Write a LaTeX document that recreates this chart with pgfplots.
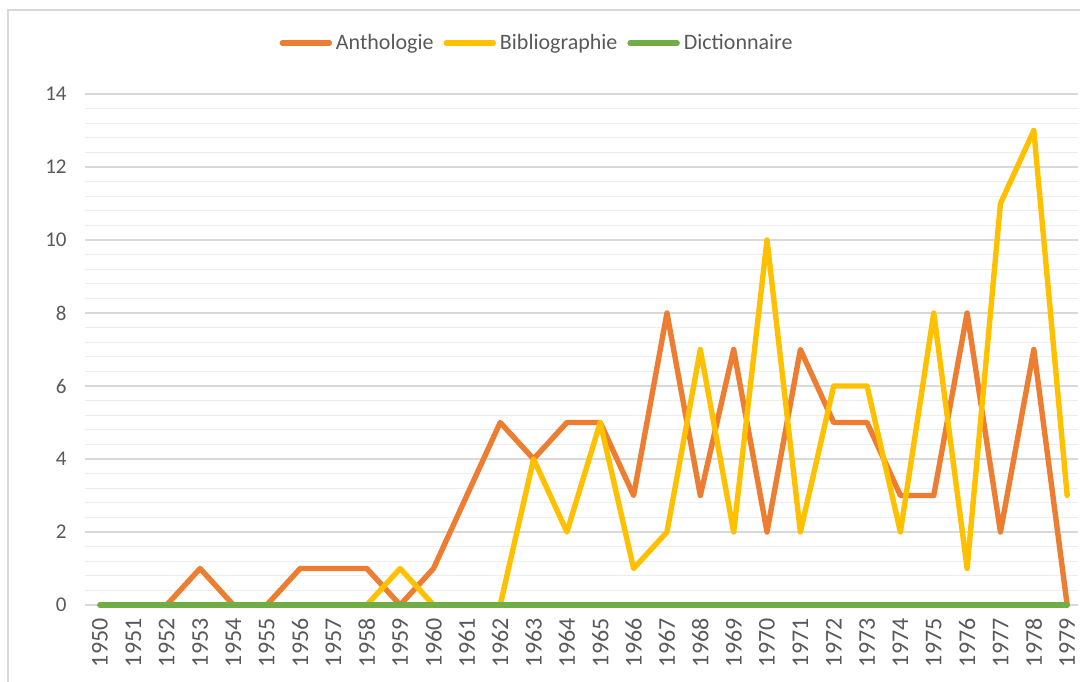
\documentclass[border=0pt]{standalone}
\usepackage{fontspec}
\setmainfont{Carlito}
\usepackage{pgfplots}
\pgfplotsset{compat=1.18}
\definecolor{cOrange}{HTML}{ED7D31}
\definecolor{cGold}{HTML}{FFC000}
\definecolor{cGreen}{HTML}{70AD47}
\definecolor{cText}{HTML}{595959}
\definecolor{cGrid}{HTML}{D9D9D9}
\definecolor{cMinor}{HTML}{EDEDED}
\begin{document}
\begin{tikzpicture}
\path[use as bounding box] (0,0) rectangle (540bp,341bp);
\draw[cGrid, line width=0.6bp] (4bp,0) -- (4bp,336bp) -- (540bp,336bp);
\begin{axis}[
  at={(42.5bp,38.5bp)}, anchor=south west,
  x=16.675bp, y=18.25bp,
  xmin=1949.55, xmax=1979.33,
  ymin=0, ymax=14,
  clip=false,
  axis line style={draw=none},
  major tick length=0pt, minor tick length=0pt,
  xtick={1950,1951,...,1979},
  ytick={0,2,...,14},
  minor y tick num=4,
  ymajorgrids, yminorgrids,
  major grid style={cGrid, line width=0.6bp},
  minor grid style={cMinor, line width=0.6bp},
  /pgf/number format/assume math mode=true,
  /pgf/number format/1000 sep={},
  xticklabel style={yshift=-6.5bp, rotate=90, anchor=east, font=\fontsize{12bp}{12bp}\selectfont, text=cText, inner sep=0pt},
  yticklabel style={font=\fontsize{10.5bp}{12bp}\selectfont, text=cText, inner sep=0pt, xshift=-9bp},
  legend columns=3,
  legend style={at={(0.4562,1.0998)}, anchor=center, draw=none, fill=none,
    font=\fontsize{11bp}{13bp}\selectfont, text=cText, inner sep=0pt,
    /tikz/every even column/.append style={column sep=3bp}},
  legend cell align=left,
  legend image code/.code={\draw[#1] (0bp,0bp) -- (23.5bp,0bp);},
  every axis plot/.append style={line width=2.7bp, line join=round, line cap=round, mark=none},
]
\addplot[cOrange] coordinates {
(1950,0) (1951,0) (1952,0) (1953,1) (1954,0) (1955,0) (1956,1) (1957,1) (1958,1) (1959,0)
(1960,1) (1961,3) (1962,5) (1963,4) (1964,5) (1965,5) (1966,3) (1967,8) (1968,3) (1969,7)
(1970,2) (1971,7) (1972,5) (1973,5) (1974,3) (1975,3) (1976,8) (1977,2) (1978,7) (1979,0)};
\addlegendentry{Anthologie}
\addplot[cGold] coordinates {
(1950,0) (1951,0) (1952,0) (1953,0) (1954,0) (1955,0) (1956,0) (1957,0) (1958,0) (1959,1)
(1960,0) (1961,0) (1962,0) (1963,4) (1964,2) (1965,5) (1966,1) (1967,2) (1968,7) (1969,2)
(1970,10) (1971,2) (1972,6) (1973,6) (1974,2) (1975,8) (1976,1) (1977,11) (1978,13) (1979,3)};
\addlegendentry{Bibliographie}
\addplot[cGreen] coordinates {
(1950,0) (1951,0) (1952,0) (1953,0) (1954,0) (1955,0) (1956,0) (1957,0) (1958,0) (1959,0)
(1960,0) (1961,0) (1962,0) (1963,0) (1964,0) (1965,0) (1966,0) (1967,0) (1968,0) (1969,0)
(1970,0) (1971,0) (1972,0) (1973,0) (1974,0) (1975,0) (1976,0) (1977,0) (1978,0) (1979,0)};
\addlegendentry{Dictionnaire}
\end{axis}
\end{tikzpicture}
\end{document}
